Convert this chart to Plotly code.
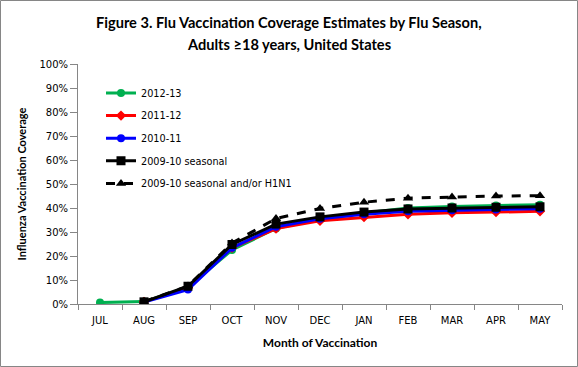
import plotly.graph_objects as go

months = ["JUL", "AUG", "SEP", "OCT", "NOV", "DEC", "JAN", "FEB", "MAR", "APR", "MAY"]
y_ticks = [0, 10, 20, 30, 40, 50, 60, 70, 80, 90, 100]
y_tick_labels = [f"{v}%" for v in y_ticks]

s2012_13 = [0.6, 1.0, 7.0, 22.5, 31.5, 35.2, 37.9, 40.0, 40.6, 41.0, 41.4]
s2011_12 = [None, 0.9, 6.8, 23.4, 31.4, 34.7, 36.2, 37.4, 38.0, 38.3, 38.6]
s2010_11 = [None, 0.8, 6.0, 23.4, 32.2, 35.5, 37.4, 38.6, 39.1, 39.4, 39.7]
s2009_seasonal = [None, 0.9, 7.4, 24.8, 33.3, 36.3, 38.3, 39.6, 40.0, 40.3, 40.5]
s2009_h1n1 = [None, 1.0, 7.5, 25.4, 35.6, 39.8, 42.4, 44.1, 44.6, 45.0, 45.1]

W, H = 578, 367
ML, MR, MT, MB = 78, 16, 64, 63
PW, PH = W - ML - MR, H - MT - MB

fig = go.Figure()
series = [
    ("2012-13", s2012_13, "#00B050", "circle", 8, "solid"),
    ("2011-12", s2011_12, "#FF0000", "diamond", 8, "solid"),
    ("2010-11", s2010_11, "#0000FF", "circle", 8, "solid"),
    ("2009-10 seasonal", s2009_seasonal, "#000000", "square", 9, "solid"),
    ("2009-10 seasonal and/or H1N1", s2009_h1n1, "#000000", "triangle-up", 9, "dash"),
]
for i, (name, vals, col, sym, size, dash) in enumerate(series):
    fig.add_trace(go.Scatter(
        x=months, y=vals, name=name, mode="lines+markers",
        line=dict(color=col, width=3, dash=dash),
        marker=dict(symbol=sym, size=size, color=col),
        legendgroup=f"g{i}",
    ))

def px(x):
    return (x - ML) / PW

def py(y):
    return (H - MB - y) / PH

fig.update_layout(
    width=W, height=H,
    margin=dict(l=ML, r=MR, t=MT, b=MB),
    paper_bgcolor="white", plot_bgcolor="white",
    showlegend=True,
    legend=dict(
        x=px(101), y=py(78.5), xanchor="left", yanchor="top",
        bgcolor="rgba(0,0,0,0)", traceorder="grouped", tracegroupgap=3.6,
        font=dict(family="DejaVu Sans", size=9.7, color="black"),
    ),
    xaxis=dict(
        type="category", categoryorder="array", categoryarray=months,
        range=[-0.5, 10.5], tickson="boundaries", ticks="outside", ticklen=5,
        tickcolor="#868686", showline=True, linecolor="#868686", linewidth=1,
        showgrid=False, zeroline=False, ticklabelstandoff=7,
        tickfont=dict(family="DejaVu Sans", size=10, color="black"),
        title=dict(text="<b>Month of Vaccination</b>", standoff=13,
                   font=dict(family="Lato", size=12, color="black")),
    ),
    yaxis=dict(
        range=[0, 100], tickvals=y_ticks, ticktext=y_tick_labels,
        ticks="outside", ticklen=7, tickcolor="#868686",
        showline=True, linecolor="#868686", linewidth=1,
        showgrid=False, zeroline=False,
        tickfont=dict(family="DejaVu Sans", size=10, color="black"),
        title=dict(text="<b>Influenza Vaccination Coverage</b>", standoff=10,
                   font=dict(family="Lato", size=11, color="black")),
    ),
    annotations=[
        dict(text="<b>Figure 3. Flu Vaccination Coverage Estimates by Flu Season,</b>",
             x=px(W / 2), y=py(22.5), xref="paper", yref="paper", showarrow=False,
             xanchor="center", yanchor="middle",
             font=dict(family="Lato", size=14.6, color="black")),
        dict(text="<b>Adults ≥18 years, United States</b>",
             x=px(W / 2), y=py(44), xref="paper", yref="paper", showarrow=False,
             xanchor="center", yanchor="middle",
             font=dict(family="Lato", size=14.6, color="black")),
    ],
    shapes=[dict(type="rect", xref="paper", yref="paper",
                 x0=px(0.5), x1=px(W - 0.5), y0=py(H - 0.5), y1=py(0.5),
                 line=dict(color="#868686", width=1), layer="below")],
)

fig.write_html("out.html", config={"displayModeBar": False},
               post_script="document.body.style.margin='0';document.body.style.padding='0';")
